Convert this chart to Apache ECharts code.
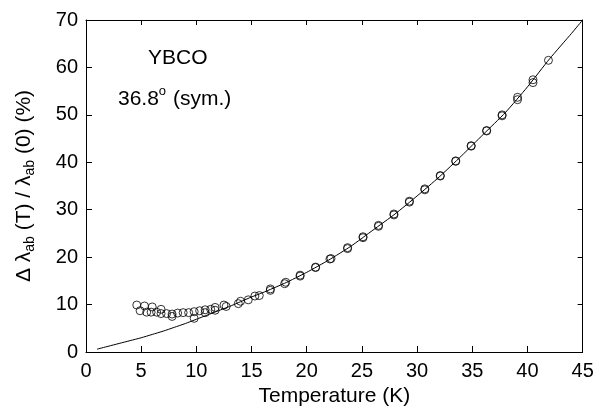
<!DOCTYPE html>
<html>
<head>
<meta charset="utf-8">
<script src="https://cdn.jsdelivr.net/npm/echarts@6/dist/echarts.min.js"></script>
<style>
  html, body { margin: 0; padding: 0; background: #fff; }
  #chart { width: 607px; height: 416px; }
</style>
</head>
<body>
<div id="chart"></div>
<script>
// measured points, temperature (K) and Δλab(T)/λab(0) (%)
const temps = [4.6, 4.9, 5.3, 5.5, 5.9, 6.0, 6.4, 6.8, 6.8, 7.3, 7.8, 7.8, 8.3, 8.8, 9.3, 9.8, 9.8,
  10.3, 10.8, 10.8, 11.3, 11.7, 11.7, 12.5, 12.7, 13.8, 14.0, 14.7, 15.3, 15.7, 16.7, 16.7,
  18.0, 18.1, 19.4, 19.4, 20.8, 20.8, 22.1, 22.2, 23.7, 23.7, 25.1, 25.1, 26.5, 26.5,
  27.9, 27.9, 29.3, 29.3, 30.7, 30.7, 32.1, 32.1, 33.5, 33.5, 34.9, 34.9, 36.3, 36.3,
  37.7, 37.7, 39.1, 39.1, 40.5, 40.5, 41.9]
const pct = [9.9, 8.7, 9.7, 8.4, 8.4, 9.5, 8.4, 9.0, 8.1, 8.1, 8.0, 7.5, 8.2, 8.3, 8.3, 7.1, 8.5,
  8.7, 8.9, 8.3, 9.0, 9.4, 8.8, 9.9, 9.6, 10.2, 10.7, 11.0, 11.8, 11.9, 13.0, 13.3,
  14.4, 14.7, 16.0, 16.2, 17.8, 17.9, 19.6, 19.7, 21.8, 22.0, 24.1, 24.3, 26.5, 26.7,
  28.9, 29.1, 31.6, 31.8, 34.2, 34.4, 37.1, 37.2, 40.2, 40.3, 43.4, 43.5, 46.6, 46.7,
  49.8, 50.0, 53.2, 53.7, 56.8, 57.4, 61.5]

// fitted curve
const fitT = [1, 2, 3, 4, 5, 6, 7, 8, 9, 10, 11, 12, 13, 14, 15, 16, 18, 20, 22, 24, 26, 28,
  30, 32, 34, 36, 38, 40, 42, 44, 45]
const fitPct = [0.6, 1.2, 1.8, 2.4, 3.0, 3.7, 4.4, 5.2, 6.0, 6.9, 7.8, 8.7, 9.6, 10.6, 11.6, 12.5,
  14.5, 16.8, 19.4, 22.3, 25.7, 29.1, 32.9, 36.9, 41.3, 45.9, 50.5, 55.9, 61.8, 67.2, 70.0]

const xTicks = [0, 45, 5]
const yTicks = [0, 70, 10]

const font = "Arial, 'Liberation Sans', sans-serif"

let myChart = echarts.init(document.getElementById("chart"))

myChart.setOption({
  animation: false,
  grid: { left: 86, right: 22, top: 19, bottom: 64 },
  xAxis: [
    {
      type: "value", min: xTicks[0], max: xTicks[1], interval: xTicks[2],
      position: "bottom",
      axisLine: { show: true, lineStyle: { color: "#000" } },
      axisTick: { show: true, inside: true, length: 6, lineStyle: { color: "#000" } },
      splitLine: { show: false },
      axisLabel: { fontSize: 20, color: "#000", margin: 9, fontFamily: font },
      name: "Temperature (K)",
      nameLocation: "middle",
      nameGap: 34,
      nameTextStyle: { fontSize: 21, color: "#000", fontFamily: font }
    },
    {
      // mirror axis along the top
      type: "value", min: xTicks[0], max: xTicks[1], interval: xTicks[2],
      position: "top",
      axisLine: { show: true, onZero: false, lineStyle: { color: "#000" } },
      axisTick: { show: true, inside: true, lineStyle: { color: "#000" } },
      axisLabel: { show: true, color: "rgba(0,0,0,0)" },
      splitLine: { show: false }
    }
  ],
  yAxis: [
    {
      type: "value", min: yTicks[0], max: yTicks[1], interval: yTicks[2],
      position: "left",
      axisLine: { show: true, lineStyle: { color: "#000" } },
      axisTick: { show: true, inside: true, length: 6, lineStyle: { color: "#000" } },
      splitLine: { show: false },
      axisLabel: { fontSize: 20, color: "#000", margin: 8, fontFamily: font },
      name: "{a|\u0394 \u03bb}{s|ab}{a| (T) / \u03bb}{s|ab}{a| (0) (%)}",
      nameLocation: "middle",
      nameGap: 49,
      nameRotate: 90,
      nameTextStyle: {
        color: "#000",
        rich: {
          a: { fontSize: 21, fontFamily: font, color: "#000" },
          s: { fontSize: 14, fontFamily: font, color: "#000", padding: [12, 0, 0, 0] }
        }
      }
    },
    {
      // mirror axis along the right
      type: "value", min: yTicks[0], max: yTicks[1], interval: yTicks[2],
      position: "right",
      axisLine: { show: true, onZero: false, lineStyle: { color: "#000" } },
      axisTick: { show: true, inside: true, lineStyle: { color: "#000" } },
      axisLabel: { show: true, color: "rgba(0,0,0,0)" },
      splitLine: { show: false }
    }
  ],
  graphic: [
    {
      type: "text", left: 148, top: 48,
      style: { text: "YBCO", font: "21px " + font, fill: "#000" }
    },
    {
      type: "text", left: 118, top: 85,
      style: {
        text: "{a|36.8}{o|o}{a| (sym.)}",
        fill: "#000",
        rich: {
          a: { fontSize: 21, fontFamily: font, color: "#000" },
          o: { fontSize: 13, fontFamily: font, color: "#000", padding: [0, 1, 16, 0] }
        }
      }
    }
  ],
  series: [
    {
      name: "fit",
      type: "line",
      xAxisIndex: 1,
      yAxisIndex: 1,
      data: fitT.map((t, i) => [t, fitPct[i]]),
      showSymbol: false,
      smooth: 0.2,
      lineStyle: { color: "#000", width: 1 },
      z: 2
    },
    {
      name: "data",
      type: "scatter",
      xAxisIndex: 0,
      yAxisIndex: 0,
      data: temps.map((t, i) => [t, pct[i]]),
      symbol: "circle",
      symbolSize: 8,
      itemStyle: { color: "rgba(0,0,0,0)", borderColor: "#000", borderWidth: 1 },
      z: 3
    }
  ]
})
</script>
</body>
</html>
